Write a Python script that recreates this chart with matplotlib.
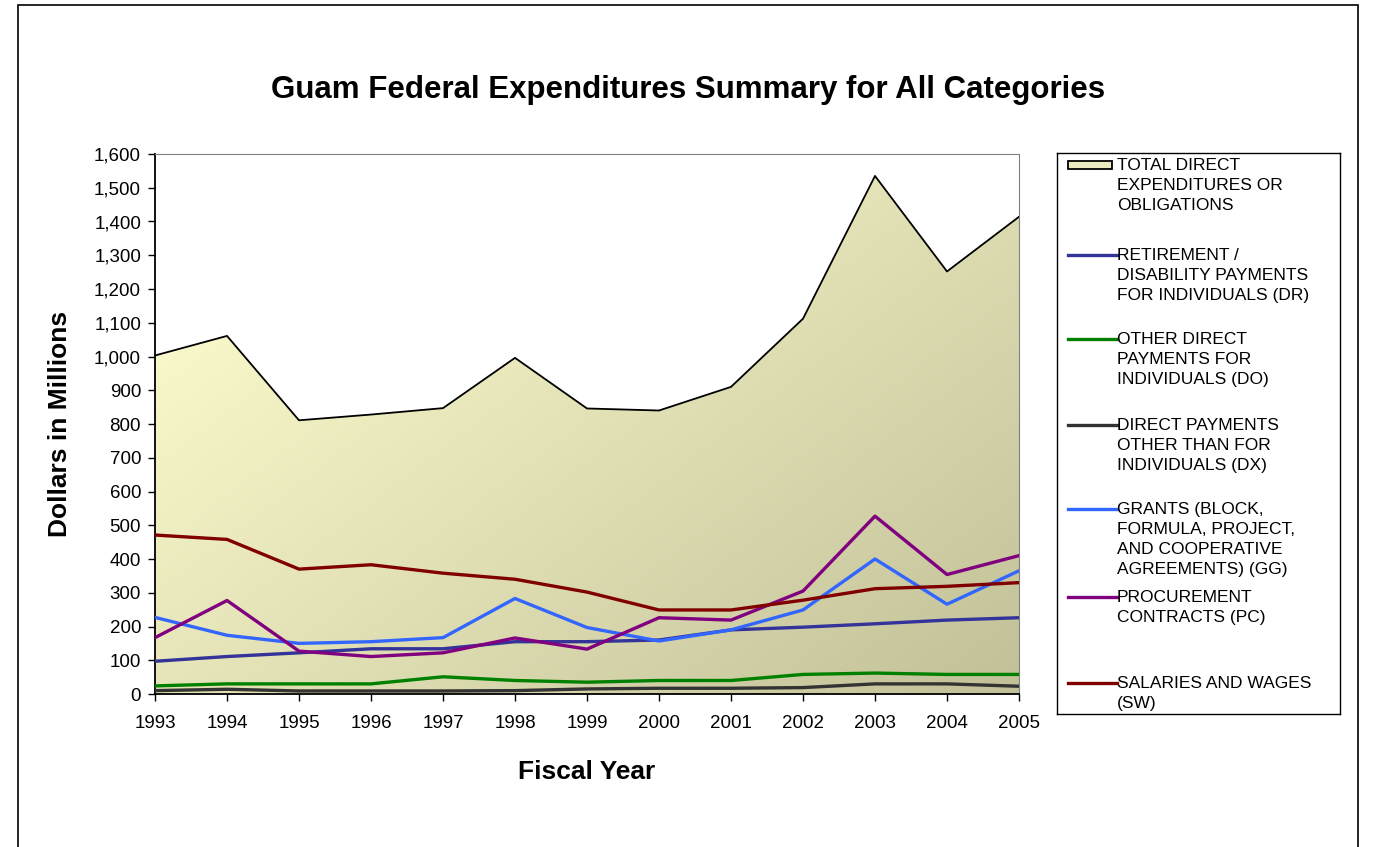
import numpy as np
import matplotlib
matplotlib.use("Agg")
import matplotlib.pyplot as plt
from matplotlib.patches import Rectangle
from matplotlib.lines import Line2D
from matplotlib.ticker import FuncFormatter, MultipleLocator

plt.rcParams['font.family'] = ['Liberation Sans', 'DejaVu Sans']

years = [1993, 1994, 1995, 1996, 1997, 1998, 1999, 2000, 2001, 2002, 2003, 2004, 2005]

total = [1003, 1061, 811, 828, 847, 996, 846, 840, 910, 1112, 1535, 1252, 1414]
dr = [97, 111, 122, 134, 134, 155, 155, 160, 190, 198, 208, 219, 226]
do = [24, 30, 30, 30, 51, 40, 35, 40, 40, 58, 62, 58, 58]
dx = [10, 14, 9, 9, 9, 10, 15, 17, 17, 19, 30, 30, 23]
gg = [227, 174, 150, 155, 167, 283, 197, 157, 190, 249, 400, 266, 365]
pc = [167, 277, 127, 111, 122, 166, 133, 226, 219, 305, 527, 354, 410]
sw = [471, 458, 370, 383, 358, 340, 302, 249, 249, 278, 312, 319, 330]

series = [
    ("RETIREMENT /\nDISABILITY PAYMENTS\nFOR INDIVIDUALS (DR)", dr, "#333399"),
    ("OTHER DIRECT\nPAYMENTS FOR\nINDIVIDUALS (DO)", do, "#008000"),
    ("DIRECT PAYMENTS\nOTHER THAN FOR\nINDIVIDUALS (DX)", dx, "#333333"),
    ("GRANTS (BLOCK,\nFORMULA, PROJECT,\nAND COOPERATIVE\nAGREEMENTS) (GG)", gg, "#3366FF"),
    ("PROCUREMENT\nCONTRACTS (PC)", pc, "#800080"),
    ("SALARIES AND WAGES\n(SW)", sw, "#800000"),
]
total_label = "TOTAL DIRECT\nEXPENDITURES OR\nOBLIGATIONS"

W, H = 1374, 847
fig = plt.figure(figsize=(W / 100, H / 100), dpi=100)

# outer frame
fig.patches.append(Rectangle((18 / W, -0.02), (1358 - 18) / W, 1 - 5 / H + 0.02,
                             transform=fig.transFigure, fill=False,
                             edgecolor="black", linewidth=1.2))

ax = fig.add_axes([155 / W, 1 - 694 / H, (1019 - 155) / W, (694 - 154) / H])

# gradient-filled area for total
poly = ax.fill_between(years, total, 0, facecolor="none", edgecolor="none")
xx, yy = np.meshgrid(np.linspace(0, 1, 200), np.linspace(0, 1, 200))
t = np.clip((xx * 0.55 + yy * 0.45 - 0.15) / 0.85, 0, 1)
c0 = np.array([250, 249, 203]) / 255
c1 = np.array([194, 192, 152]) / 255
img = c0[None, None, :] * (1 - t[..., None]) + c1[None, None, :] * t[..., None]
im = ax.imshow(img, extent=[years[0], years[-1], 0, 1600], origin="upper",
               aspect="auto", zorder=1)
im.set_clip_path(poly.get_paths()[0], transform=ax.transData)
ax.set_xlim(years[0], years[-1])
ax.set_ylim(0, 1600)
ax.plot(years, total, color="black", linewidth=1.3, zorder=3)

for label, vals, col in series:
    ax.plot(years, vals, color=col, linewidth=2.4, zorder=4)

ax.yaxis.set_major_locator(MultipleLocator(100))
ax.yaxis.set_major_formatter(FuncFormatter(lambda v, p: f"{int(v):,}"))
ax.set_xticks(years)
ax.tick_params(axis="both", direction="out", length=5, width=1, labelsize=13.5, colors="black")
ax.tick_params(axis="x", pad=10)
ax.tick_params(axis="y", pad=5)
for s in ["top", "right"]:
    ax.spines[s].set_color("#808080")
for s in ["left", "bottom"]:
    ax.spines[s].set_color("black")
    ax.spines[s].set_linewidth(1.3)

ax.set_xlabel("Fiscal Year", fontsize=19, fontweight="bold", labelpad=20)
ax.set_ylabel("Dollars in Millions", fontsize=19, fontweight="bold", labelpad=16)
fig.text(688 / W, 1 - 90 / H, "Guam Federal Expenditures Summary for All Categories",
         ha="center", va="center", fontsize=22.5, fontweight="bold")

# legend box drawn in its own axes with pixel coordinates
lax = fig.add_axes([1057 / W, 1 - 714 / H, (1340 - 1057) / W, (714 - 153) / H])
lax.set_xlim(1057, 1340)
lax.set_ylim(714, 153)
lax.set_xticks([])
lax.set_yticks([])
for s in lax.spines.values():
    s.set_color("black")
    s.set_linewidth(1)

lax.add_patch(Rectangle((1068, 161), 44, 8, facecolor="#ECEAC0", edgecolor="black", linewidth=1.3))
lax.text(1117, 158, total_label, va="top", ha="left", fontsize=12.5, linespacing=1.42)
entry_y = [255, 339, 425, 509, 597, 683]
for (label, vals, col), y in zip(series, entry_y):
    lax.add_line(Line2D([1068, 1117], [y, y], color=col, linewidth=2.4))
    lax.text(1117, y - 7, label, va="top", ha="left", fontsize=12.5, linespacing=1.42)

fig.savefig("out.png", dpi=100)
